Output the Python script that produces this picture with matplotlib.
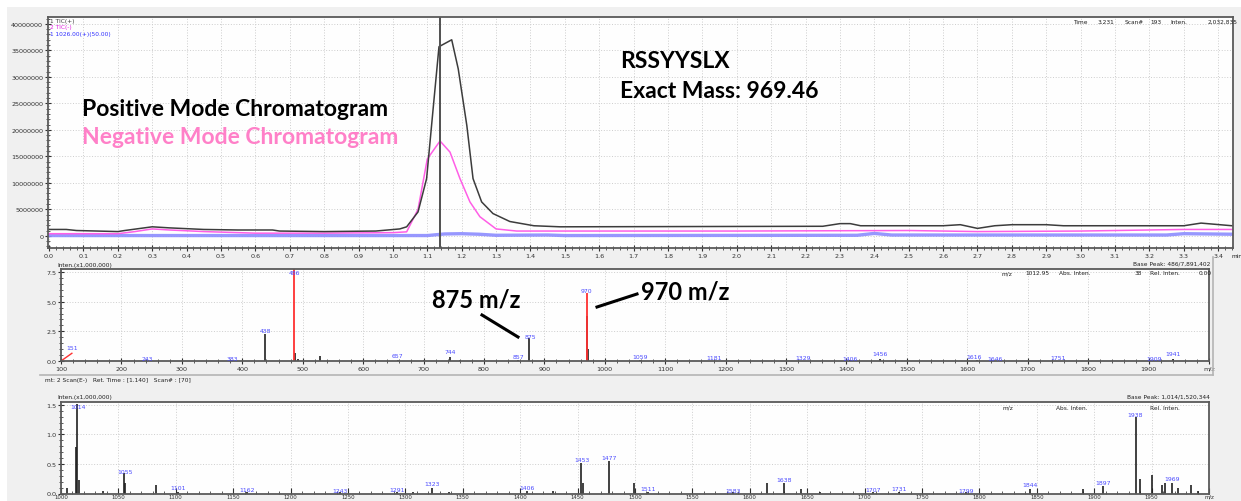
import matplotlib
matplotlib.use("Agg")
import matplotlib.pyplot as plt
from matplotlib.lines import Line2D
from matplotlib.patches import Rectangle
from matplotlib.ticker import MultipleLocator, FuncFormatter

W, H = 1241, 502

# --- chromatogram (TIC) data, intensity in units of 1e6 ---
pos_time = [0.0, 0.05, 0.08, 0.2, 0.22, 0.3, 0.35, 0.45, 0.55, 0.65, 0.67, 0.8, 0.95,
            1.02, 1.04, 1.073, 1.098, 1.117, 1.134, 1.171, 1.19, 1.215, 1.233, 1.258,
            1.291, 1.34, 1.41, 1.486, 2.25, 2.3, 2.33, 2.36, 2.6, 2.65, 2.7, 2.75, 2.8,
            2.9, 2.95, 3.05, 3.3, 3.35, 3.44]
pos_tic = [1.2, 1.2, 1.0, 0.8, 1.0, 1.7, 1.5, 1.2, 1.1, 1.1, 0.9, 0.8, 0.9,
           1.3, 1.7, 4.5, 10.8, 24.0, 35.7, 37.0, 31.5, 20.8, 10.8, 6.4,
           4.2, 2.7, 1.9, 1.7, 1.8, 2.3, 2.3, 1.9, 1.9, 2.1, 1.4, 1.9, 2.1,
           2.1, 1.9, 1.9, 1.9, 2.4, 1.9]

neg_time = [0.0, 0.2, 0.25, 0.3, 0.35, 0.45, 0.6, 0.8, 1.0, 1.04, 1.073, 1.10, 1.137,
            1.166, 1.195, 1.224, 1.253, 1.30, 1.36, 1.5, 2.0, 2.5, 2.7, 3.0, 3.3, 3.44]
neg_tic = [0.4, 0.4, 0.8, 1.3, 1.1, 0.8, 0.5, 0.5, 0.6, 0.75, 5.0, 14.5, 17.9,
           15.8, 10.8, 6.4, 3.6, 1.3, 0.9, 0.9, 0.9, 1.0, 0.8, 0.9, 1.2, 1.2]

xic_time = [0.0, 1.10, 1.15, 1.20, 1.25, 1.30, 1.45, 1.5, 2.35, 2.4, 2.45, 3.25, 3.3, 3.44]
xic_int = [0.05, 0.05, 0.35, 0.4, 0.3, 0.1, 0.15, 0.05, 0.1, 0.45, 0.15, 0.15, 0.4, 0.3]

cursor_time = 1.137

# --- positive-mode spectrum (x1,000,000) ---
ms1_mz = [243, 383, 438, 487, 492, 529, 657, 700, 744, 760, 857, 875, 970, 972,
          1059, 1181, 1329, 1406, 1456, 1616, 1646, 1751, 1909, 1941]
ms1_int = [0.05, 0.05, 2.3, 0.7, 0.2, 0.4, 0.1, 0.05, 0.3, 0.05, 0.05, 1.95, 3.75, 1.0,
           0.05, 0.04, 0.04, 0.05, 0.15, 0.05, 0.04, 0.04, 0.04, 0.15]
ms1_red_mz = [486, 970]
ms1_red_int = [7.75, 5.7]
ms1_label_text = ["151", "243", "383", "438", "486", "657", "744", "857", "875", "970",
                  "1059", "1181", "1329", "1406", "1456", "1616", "1646", "1751", "1909", "1941"]
ms1_label_mz = [118, 243, 383, 438, 486, 657, 744, 857, 877, 970,
                1059, 1181, 1329, 1406, 1456, 1612, 1646, 1751, 1909, 1941]
ms1_label_y = [1.1, 0.25, 0.25, 2.55, 7.45, 0.5, 0.76, 0.42, 2.1, 5.95,
               0.34, 0.3, 0.3, 0.25, 0.6, 0.34, 0.2, 0.3, 0.25, 0.6]

# --- negative-mode spectrum (x1,000,000) ---
ms2_mz = [1005, 1013, 1014, 1016, 1037, 1055, 1056, 1083, 1102, 1162, 1243, 1293, 1307,
          1323, 1338, 1406, 1429, 1453, 1455, 1477, 1499, 1511, 1585, 1615, 1630, 1645,
          1661, 1707, 1730, 1788, 1844, 1890, 1908, 1936, 1940, 1950, 1959, 1962, 1968,
          1973, 1984, 1990]
ms2_int = [0.1, 0.79, 1.51, 0.23, 0.045, 0.34, 0.18, 0.14, 0.03, 0.02, 0.02, 0.03, 0.02,
           0.085, 0.02, 0.04, 0.05, 0.51, 0.17, 0.55, 0.17, 0.03, 0.02, 0.17, 0.17, 0.07,
           0.03, 0.02, 0.02, 0.02, 0.07, 0.07, 0.12, 1.29, 0.25, 0.32, 0.14, 0.17, 0.18,
           0.1, 0.14, 0.05]
ms2_label_text = ["1014", "1055", "1101", "1162", "1243", "1291", "1323", "1406", "1453",
                  "1477", "1511", "1583", "1638", "1707", "1731", "1799", "1844", "1897",
                  "1938", "1969"]
ms2_label_mz = [1015, 1056, 1102, 1162, 1243, 1293, 1323, 1406, 1454, 1477, 1511, 1585,
                1630, 1707, 1730, 1788, 1844, 1908, 1936, 1968]
ms2_label_y = [1.48, 0.38, 0.1, 0.06, 0.05, 0.06, 0.17, 0.11, 0.58, 0.61, 0.08, 0.05,
               0.24, 0.07, 0.08, 0.05, 0.15, 0.18, 1.33, 0.25]


def px_rect(x0, y0, x1, y1):
    return [x0 / W, 1 - y1 / H, (x1 - x0) / W, (y1 - y0) / H]


def ptext(x, y, s, **kw):
    kw.setdefault("fontsize", 4.6)
    kw.setdefault("va", "center")
    kw.setdefault("color", "#202020")
    fig.text(x / W, 1 - y / H, s, **kw)


def pline(xs, ys, **kw):
    fig.add_artist(Line2D([x / W for x in xs], [1 - y / H for y in ys], **kw))


def style_axes(ax):
    ax.set_facecolor("#fefefe")
    for sp in ax.spines.values():
        sp.set_color("#5a5a5a")
        sp.set_linewidth(1.3)
    ax.grid(True, which="major", color="#cdcdcd", linestyle=(0, (1, 1.8)), linewidth=0.7)
    ax.tick_params(which="major", direction="inout", length=4, width=0.8,
                   labelsize=4.6, colors="#303030", pad=1.5)
    ax.tick_params(which="minor", direction="inout", length=2.2, width=0.6, colors="#404040")
    ax.set_axisbelow(True)


fig = plt.figure(figsize=(W / 100, H / 100), dpi=100, facecolor="#f0f0f0")
fig.patches.append(Rectangle((0, 1 - 8 / H), 1, 8 / H, transform=fig.transFigure,
                             facecolor="white", edgecolor="none"))
fig.patches.append(Rectangle((0, 0), 7 / W, 1, transform=fig.transFigure,
                             facecolor="white", edgecolor="none"))

# ---------------- top: chromatogram ----------------
ax1 = fig.add_axes(px_rect(48, 18, 1233, 249))
style_axes(ax1)
ax1.plot(xic_time, [v * 1e6 for v in xic_int], color="#8c8cff", lw=2.4, alpha=0.9)
ax1.plot(neg_time, [v * 1e6 for v in neg_tic], color="#ff5ee6", lw=1.1)
ax1.plot(pos_time, [v * 1e6 for v in pos_tic], color="#3c3c3c", lw=1.1)
ax1.axvline(cursor_time, color="#505050", lw=1.4)
ax1.set_xlim(-0.003, 3.443)
ax1.set_ylim(-2.3e6, 41.3e6)
ax1.xaxis.set_major_locator(MultipleLocator(0.1))
ax1.xaxis.set_minor_locator(MultipleLocator(0.02))
ax1.xaxis.set_major_formatter(FuncFormatter(lambda v, p: f"{v:.1f}"))
ax1.yaxis.set_major_locator(MultipleLocator(5e6))
ax1.yaxis.set_minor_locator(MultipleLocator(1e6))
ax1.yaxis.set_major_formatter(FuncFormatter(lambda v, p: f"{int(round(v))}"))
ptext(1231, 257, "min", fontsize=4.2)

ptext(50, 21, "1 TIC(+)", color="#404040", fontsize=4.2)
ptext(50, 28, "2 TIC(-)", color="#e020e0", fontsize=4.2)
ptext(50, 35, "1 1026.00(+)(50.00)", color="#3030ff", fontsize=4.2)
for x, s in [(1073, "Time"), (1098, "3.231"), (1125, "Scan#"), (1150, "193"),
             (1170, "Inten."), (1208, "2,032,835")]:
    ptext(x, 22, s, fontsize=4.2)

txt_font = ["Lato", "DejaVu Sans"]
big = 16.5
ptext(82, 110, "Positive Mode Chromatogram", fontsize=big, fontweight="bold",
      color="black", family=txt_font)
ptext(82, 138, "Negative Mode Chromatogram", fontsize=big, fontweight="bold",
      color="#ff80c8", family=txt_font)
ptext(620, 62, "RSSYYSLX", fontsize=big, fontweight="bold", color="black", family=txt_font)
ptext(620, 91, "Exact Mass: 969.46", fontsize=big, fontweight="bold", color="black",
      family=txt_font)

# ---------------- middle: positive spectrum ----------------
ax2 = fig.add_axes(px_rect(61, 270, 1209, 362))
style_axes(ax2)
ax2.vlines(ms1_mz, 0, ms1_int, color="#202020", lw=1.2)
ax2.vlines(ms1_red_mz, 0, ms1_red_int, color="#ff3030", lw=1.3)
ax2.plot([100, 118], [0, 0.65], color="#ff3030", lw=1.0)
for s, x, y in zip(ms1_label_text, ms1_label_mz, ms1_label_y):
    ax2.text(x, y, s, color="#4a4aff", fontsize=4.4, ha="center", va="center")
ax2.set_xlim(100, 2000)
ax2.set_ylim(0, 7.75)
ax2.xaxis.set_major_locator(MultipleLocator(100))
ax2.xaxis.set_minor_locator(MultipleLocator(20))
ax2.xaxis.set_major_formatter(FuncFormatter(lambda v, p: "m/z" if v >= 1999 else f"{int(v)}"))
ax2.yaxis.set_major_locator(MultipleLocator(2.5))
ax2.yaxis.set_minor_locator(MultipleLocator(0.5))
ax2.yaxis.set_major_formatter(FuncFormatter(lambda v, p: f"{v:.1f}"))

ptext(57, 265, "Inten.(x1,000,000)", fontsize=4.2)
ptext(1210, 264, "Base Peak: 486/7,891,402", fontsize=4.2, ha="right")
for x, s in [(1007, "m/z"), (1037, "1012.95"), (1075, "Abs. Inten."), (1138, "38"),
             (1165, "Rel. Inten."), (1205, "0.00")]:
    ptext(x, 274, s, fontsize=4.2, ha="center")

ptext(432, 300, "875 m/z", fontsize=17, fontweight="bold", color="black", family=txt_font)
ptext(641, 292, "970 m/z", fontsize=17, fontweight="bold", color="black", family=txt_font)
pline([482, 518], [316, 338], color="black", lw=2.2)
pline([597, 637], [308, 295], color="black", lw=2.2)

# separator band between spectra
pline([40, 1213], [376, 376], color="#b4b4b4", lw=1.2)
pline([1213, 1213], [258, 376], color="#b4b4b4", lw=1.2)
ptext(45, 381, "mt: 2 Scan(E-)   Ret. Time : [1.140]   Scan# : [70]", fontsize=4.2)

# ---------------- bottom: negative spectrum ----------------
ax3 = fig.add_axes(px_rect(61, 403, 1209, 494.5))
style_axes(ax3)
ax3.vlines(ms2_mz, 0, ms2_int, color="#202020", lw=1.2)
for s, x, y in zip(ms2_label_text, ms2_label_mz, ms2_label_y):
    ax3.text(x, y, s, color="#4a4aff", fontsize=4.4, ha="center", va="center")
ax3.set_xlim(1000, 2000)
ax3.set_ylim(0, 1.55)
ax3.xaxis.set_major_locator(MultipleLocator(50))
ax3.xaxis.set_minor_locator(MultipleLocator(10))
ax3.xaxis.set_major_formatter(FuncFormatter(lambda v, p: "m/z" if v >= 1999 else f"{int(v)}"))
ax3.yaxis.set_major_locator(MultipleLocator(0.5))
ax3.yaxis.set_minor_locator(MultipleLocator(0.1))
ax3.yaxis.set_major_formatter(FuncFormatter(lambda v, p: f"{v:.1f}"))
ax3.tick_params(axis="x", which="both", direction="in", pad=0.3, labelsize=3.9)

ptext(57, 398, "Inten.(x1,000,000)", fontsize=4.2)
ptext(1210, 397, "Base Peak: 1,014/1,520,344", fontsize=4.2, ha="right")
for x, s in [(1008, "m/z"), (1072, "Abs. Inten."), (1165, "Rel. Inten.")]:
    ptext(x, 408, s, fontsize=4.2, ha="center")

fig.savefig("out.png", dpi=100, facecolor=fig.get_facecolor())
